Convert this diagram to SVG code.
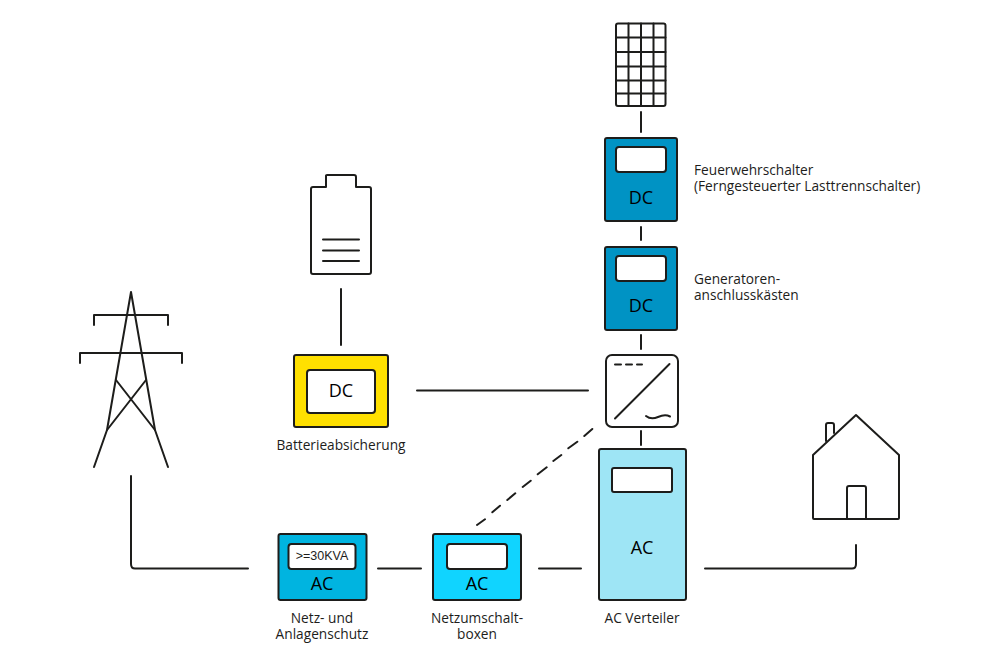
<svg xmlns="http://www.w3.org/2000/svg" width="1000" height="666" viewBox="0 0 1000 666">
<style>
.ln{fill:none;stroke:#1d1d1b;stroke-width:2;stroke-linecap:round;stroke-linejoin:round}
.box{stroke:#1d1d1b;stroke-width:2;stroke-linejoin:round}
.win{fill:#fff;stroke:#1d1d1b;stroke-width:2}
.big{font:18px "Open Sans",sans-serif;fill:#000;text-anchor:middle}
.lab{font:13.7px "Open Sans",sans-serif;fill:#1d1d1b}
.mid{text-anchor:middle}
</style>
<rect width="1000" height="666" fill="#fff"/>
<g id="connectors" class="ln">
<path d="M641 112V132M641 227V240M641 335V349M641 431V445"/>
<path d="M341 289V345M417 390.500H588"/>
<path d="M131 476V564Q131 568.500 135 568.500H248M378 568.500H421M539 568.500H581M705 568.500H852Q856 568.500 856 564V545"/>
<!-- transfer box to inverter, drawn dash by dash -->
<path d="M477 525L485 519.300M492.300 512.300L500 505.700M507.300 500L515.300 493.300M522.700 487L530.700 480.700M537.700 474.300L546.700 467.300M553.300 461L561.300 455M568.300 448.300L577.300 441.700M584.300 436L592.300 429"/>
</g>
<g id="solar-panel" class="ln">
<rect x="616" y="23.500" width="49.500" height="82.500" rx="2"/>
<path d="M628.500 23.500V106M641 23.500V106M653.500 23.500V106M616 37.500H665.500M616 52H665.500M616 66.500H665.500M616 80.500H665.500M616 93.500H665.500"/>
</g>
<g id="fire-switch">
<rect class="box" x="605" y="138" width="72" height="83" rx="2" fill="#0093c4"/>
<rect class="win" x="616" y="147" width="50" height="25" rx="3"/>
<text class="big" x="641" y="204">DC</text>
<text class="lab" x="694" y="175">Feuerwehrschalter<tspan x="694" dy="16">(Ferngesteuerter Lasttrennschalter)</tspan></text>
</g>
<g id="generator-box">
<rect class="box" x="605" y="247" width="72" height="83" rx="2" fill="#0093c4"/>
<rect class="win" x="616" y="256" width="50" height="25" rx="3"/>
<text class="big" x="641" y="312">DC</text>
<text class="lab" x="694" y="284">Generatoren-<tspan x="694" dy="16">anschlusskästen</tspan></text>
</g>
<g id="inverter" class="ln">
<rect x="606" y="355" width="72" height="72" rx="6"/>
<path d="M615 364.500H621M626 364.500H632M637 364.500H642M615 418.500L669.500 364M646 416Q651 420 658 417T670 416.500"/>
</g>
<g id="ac-distribution">
<rect class="box" x="599" y="449" width="87" height="151" rx="2" fill="#9ee5f5"/>
<rect class="win" x="612" y="468" width="60" height="24" rx="2"/>
<text class="big" x="642" y="554">AC</text>
<text class="lab mid" x="642" y="623">AC Verteiler</text>
</g>
<g id="battery" class="ln">
<path d="M326 175.500Q326 175 327 175H354Q356 175 356 177V187H369Q371 187 371 189V272Q371 274 369 274H313Q311 274 311 272V189Q311 187 313 187H326Z"/>
<path d="M323 239.500H359M323 250.500H359M323 261H359"/>
</g>
<g id="battery-fuse">
<rect class="box" x="294" y="355" width="94" height="72" rx="2" fill="#ffe000"/>
<rect class="win" x="307" y="370" width="68" height="43" rx="3"/>
<text class="big" x="341" y="397">DC</text>
<text class="lab mid" x="341" y="450">Batterieabsicherung</text>
</g>
<g id="pylon" class="ln">
<path d="M94 467L107 430L131 292L155 430L168 467"/>
<path d="M94 325V315H168V325M80 363V353H182V363"/>
<path d="M116 380L155 430M146 380L107 430"/>
</g>
<g id="grid-protection">
<rect class="box" x="278.500" y="534" width="88" height="66" rx="2" fill="#00b4e0"/>
<rect class="win" x="288.500" y="544" width="67" height="25" rx="3"/>
<text x="322" y="560" text-anchor="middle" font-family="Liberation Sans,sans-serif" font-size="12.500" fill="#1d1d1b">&gt;=30KVA</text>
<text class="big" x="322" y="590">AC</text>
<text class="lab mid" x="322" y="623">Netz- und<tspan x="322" dy="16">Anlagenschutz</tspan></text>
</g>
<g id="transfer-box">
<rect class="box" x="433" y="534" width="88" height="66" rx="2" fill="#10d4ff"/>
<rect class="win" x="447" y="544" width="60" height="25" rx="3"/>
<text class="big" x="477" y="590">AC</text>
<text class="lab mid" x="477" y="623">Netzumschalt-<tspan x="477" dy="16">boxen</tspan></text>
</g>
<g id="house" class="ln">
<path d="M813 455L856 415L899 455V518Q899 519 898 519H814Q813 519 813 518Z"/>
<path d="M826 441V425Q826 423 828 423H832Q834 423 834 425V433M847 519V488Q847 486 849 486H864Q866 486 866 488V519"/>
</g>
</svg>
